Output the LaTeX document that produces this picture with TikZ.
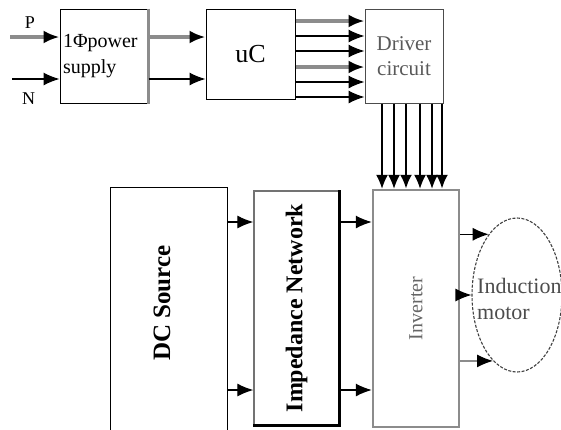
\documentclass[tikz,border=0pt]{standalone}
\usepackage{fontspec}
\setmainfont{Liberation Serif}
\usetikzlibrary{arrows.meta,shapes.geometric,positioning,calc}

\begin{document}
\begin{tikzpicture}[
  x=1pt, y=-1pt,
  >={Latex[length=16pt,width=13pt]},
% 1. Plain black boxes
  blockbox/.style={
    draw,
    rectangle,
    line width=1pt,
    inner sep=2pt
  },
% 2. Grey framed boxes (driver, inverter)
  greybox/.style={
    draw=black!45,
    rectangle,
    line width=2.5pt
  },
% 3. Thin black wires
  wire/.style={
    ->,
    line width=1.2pt
  },
% 4. Fat grey wires with black heads
  fatwire/.style={
    draw=black!45,
    line width=3.5pt,
    -{Latex[length=16pt,width=13pt,black]}
  },
% 5. Gate lines into the inverter
  gate/.style={
    line width=1.3pt,
    -{Latex[length=14pt,width=12pt]}
  },
  label_font/.style={
    font=\fontsize{18}{20}\selectfont
  }
]
  \useasboundingbox (0,0) rectangle (561,429);
  \clip (0,0) rectangle (561,429);

  % Top row
  \node[blockbox, minimum width=88pt, minimum height=94pt, text width=82pt,
        align=left, font=\fontsize{20}{26}\selectfont] (ps) at (104,56) {1Φpower\\supply};
  \draw[black!45, line width=2.5pt] (ps.north east) -- (ps.south east);
  \node[blockbox, minimum width=89pt, minimum height=90pt,
        font=\fontsize{26}{30}\selectfont] (uc) at (250.5,54) {uC};
  \node[blockbox, draw=black!70, minimum width=78pt, minimum height=94pt, align=center,
        text=black!65, font=\fontsize{21}{25}\selectfont] (drv) at (404,56) {Driver\\circuit};

  % Bottom row
  \node[blockbox, minimum width=117pt, minimum height=260pt, anchor=north] (dc) at (168.5,187) {};
  \node[rotate=90, font=\bfseries\fontsize{25}{28}\selectfont] (dctxt) at (162,303) {DC Source};
  \node[blockbox, draw=black!55, line width=1.4pt, minimum width=85pt, minimum height=234pt,
        font=\bfseries\fontsize{24}{28}\selectfont] (imp) at (296.5,308) {\rotatebox{90}{Impedance Network}};
  \draw[line width=2.6pt] (imp.north east) -- (imp.south east) -- (imp.south west);
  \node[greybox, minimum width=86pt, minimum height=237pt, text=black!60,
        font=\fontsize{20}{24}\selectfont] (inv) at (416,308.5) {\rotatebox{90}{Inverter}};
  \node[draw=black!75, dashed, dash pattern=on 3pt off 1.5pt, line width=1.1pt, ellipse,
        minimum width=90pt, minimum height=154pt, inner sep=0pt] (mot) at (517,295) {};
  \node[align=left, inner sep=0pt, text=black!70, font=\fontsize{22}{26}\selectfont,
        anchor=west] (motlab) at (477,299) {Induction\\motor};

  % Supply inputs
  \coordinate (pin) at (10,37);
  \coordinate (nin) at (12,79);
  \draw[fatwire] (pin) -- (pin -| ps.west) node[pos=0.4, above=3pt, label_font] (plab) {P};
  \draw[wire] (nin) -- (nin -| ps.west) node[pos=0.35, below=10pt, label_font] (nlab) {N};

  % Supply to controller
  \draw[fatwire] (ps.east |- pin) -- (uc.west |- pin);
  \draw[wire] (ps.east |- nin) -- (uc.west |- nin);

  % Controller to driver
  \foreach \yy/\st in {21/fatwire, 36/wire, 51/wire, 67/fatwire, 82/wire, 97/wire}
    \draw[\st] (uc.east |- 0,\yy) -- (drv.west |- 0,\yy);

  % Driver to inverter
  \foreach \xx/\lw in {382/1.2pt, 394/1.2pt, 406/2.2pt, 420/1.2pt, 432/1.2pt, 442/2.2pt}
    \draw[gate, line width=\lw] (drv.south -| \xx,0) -- (inv.north -| \xx,0);

  % Power path
  \foreach \yy in {222, 390} {
    \draw[wire] (dc.east |- 0,\yy) -- (imp.west |- 0,\yy);
    \draw[wire] (imp.east |- 0,\yy) -- (inv.west |- 0,\yy);
  }

  % Inverter to motor
  \draw[wire] (inv.east |- mot.115) -- (mot.115);
  \draw[wire] (inv.east |- mot.west) -- (mot.west);
  \draw[wire, draw=black!45, -{Latex[length=16pt,width=13pt,black]}] (inv.east |- mot.250) -- (mot.250);

\end{tikzpicture}
\end{document}
